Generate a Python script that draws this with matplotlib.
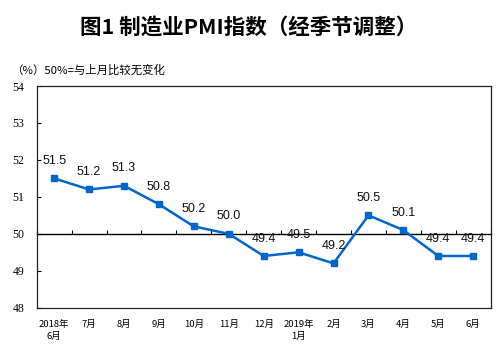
import numpy as np
import matplotlib
matplotlib.use("Agg")
import matplotlib.pyplot as plt

plt.rcParams['font.family'] = ['Noto Sans CJK SC', 'DejaVu Sans']

# données : PMI manufacturier (corrigé des variations saisonnières)
mois = ["2018年\n6月", "7月", "8月", "9月", "10月", "11月", "12月",
        "2019年\n1月", "2月", "3月", "4月", "5月", "6月"]
pmi = [51.5, 51.2, 51.3, 50.8, 50.2, 50.0, 49.4, 49.5, 49.2, 50.5, 50.1, 49.4, 49.4]
yticks = [48, 49, 50, 51, 52, 53, 54]

fig = plt.figure(figsize=(4.98, 3.55), dpi=100)
ax = fig.add_axes([0.0737, 0.1332, 0.9116, 0.6245])

x = np.arange(len(mois))
ax.plot(x, pmi, color="#0066CC", lw=1.8, marker="s", ms=4.2, zorder=3)

for xi, v in zip(x, pmi):
    ax.annotate(f"{v:.1f}", (xi, v), xytext=(0, 12.5), textcoords="offset points",
                ha="center", va="center", fontsize=9, family="Liberation Sans",
                color="#111111")

ax.set_xlim(-0.5, len(mois) - 0.5)
ax.set_ylim(48, 54)

# axe des ordonnées
ax.set_yticks(yticks)
ax.set_yticklabels([str(t) for t in yticks], family="Liberation Serif", fontsize=8.5)
ax.tick_params(axis="y", direction="in", length=3, width=0.8, pad=9)

# étiquettes des mois
ax.set_xticks(x)
ax.set_xticklabels(mois, fontsize=6.8, linespacing=1.5)
ax.tick_params(axis="x", length=0, pad=8.5)

for s in ax.spines.values():
    s.set_linewidth(0.9)
    s.set_color("#222222")

# ligne des 50 avec graduations
sec = ax.secondary_xaxis(1 / 3)
sec.set_xticks(np.arange(-0.5, len(mois), 1))
sec.set_xticklabels([])
sec.tick_params(direction="in", length=3, width=0.8)
sec.spines["bottom"].set_linewidth(1.0)

fig.text(0.5, 0.925, "图1 制造业PMI指数（经季节调整）", ha="center", va="center",
         fontsize=15.5, fontweight="bold")
fig.text(0.022, 0.803, "（%）50%=与上月比较无变化", ha="left", va="center", fontsize=8.2)

fig.savefig("out.png", dpi=100)
